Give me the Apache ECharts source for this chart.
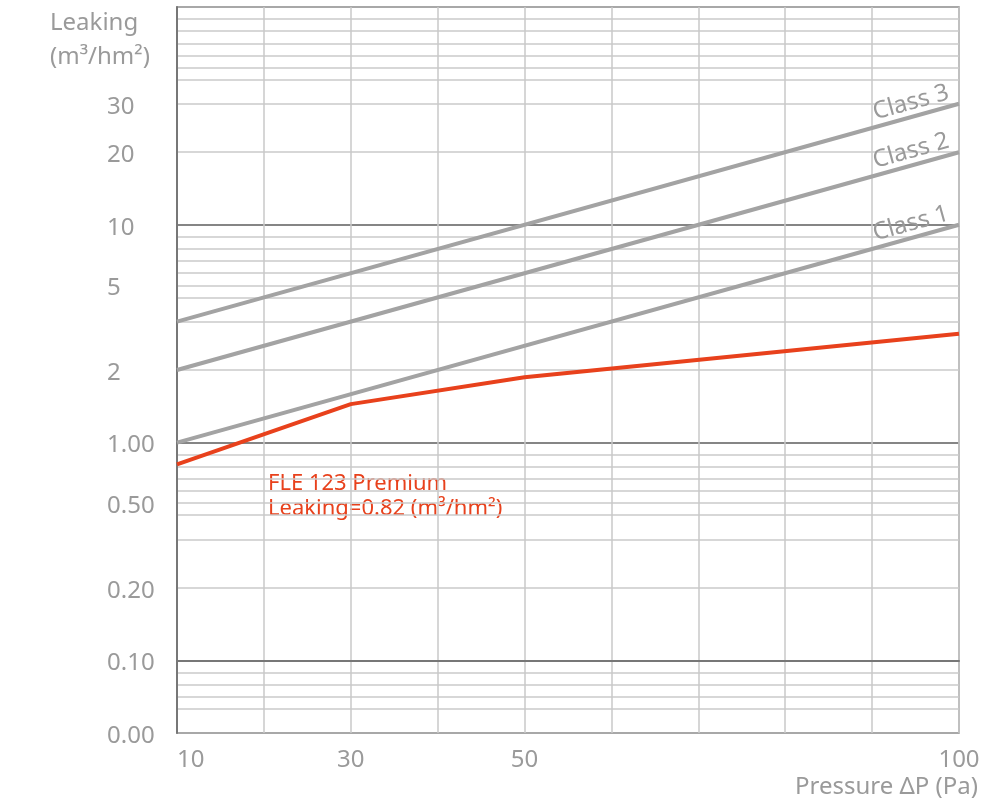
<!DOCTYPE html>
<html>
<head>
<meta charset="utf-8">
<script src="https://cdn.jsdelivr.net/npm/echarts@6/dist/echarts.min.js"></script>
<style>
  html, body { margin: 0; padding: 0; background: #fff; }
  #chart { width: 1000px; height: 807px; }
</style>
</head>
<body>
<div id="chart"></div>
<script>
  // pressure dP (Pa)
  var classPressure = [10, 100];
  var premiumPressure = [10, 30, 50, 100];
  var xLabels = [10, 30, 50, 100];

  // leaking (m3/hm2)
  var class1 = [1, 10];
  var class2 = [2, 20];
  var class3 = [3, 30];
  var premium = [0.82, 1.53, 1.9, 2.75];

  var yLabels = [0, 0.1, 0.2, 0.5, 1, 2, 5, 10, 20, 30];
  var yLabelText = ['0.00', '0.10', '0.20', '0.50', '1.00', '2', '5', '10', '20', '30'];
  var majorLines = [0.1, 1, 10];
  var minorLines = [0.06, 0.07, 0.08, 0.09,
    0.2, 0.3, 0.4, 0.5, 0.6, 0.7, 0.8, 0.9,
    2, 3, 4, 5, 6, 7, 8, 9,
    20, 30, 40, 50, 60, 70, 80, 90];

  // the paper of the original chart: every decade is split in 18 steps,
  // 1-2 takes 6, 2-3 takes 4, 3-4 takes 2, then one step each
  var decadeMantissa = [1, 2, 3, 4, 5, 6, 7, 8, 9, 10];
  var decadeSteps = [0, 6, 10, 12, 13, 14, 15, 16, 17, 18];

  function toPaper(v) {
    if (v <= 0) return -6; // the "0.00" bottom line
    var d = Math.floor(Math.log10(v) + 1e-9);
    var m = v / Math.pow(10, d);
    var i = 0;
    while (i < 8 && m > decadeMantissa[i + 1] + 1e-9) i++;
    var t = (m - decadeMantissa[i]) / (decadeMantissa[i + 1] - decadeMantissa[i]);
    return (d + 1) * 18 + decadeSteps[i] + t * (decadeSteps[i + 1] - decadeSteps[i]);
  }

  function pairs(xs, ys) {
    return xs.map(function (x, i) { return [x, toPaper(ys[i])]; });
  }

  var font = 'Noto Sans';
  var gray = '#a3a3a3';
  var red = '#e8411c';
  var textGray = '#9a9a9a';

  var labelPaper = yLabels.map(toPaper);

  function classSeries(name, ys) {
    return {
      name: name,
      type: 'line',
      data: pairs(classPressure, ys),
      symbol: 'none',
      lineStyle: {color: gray, width: 4},
      z: 3,
      markPoint: {
        symbol: 'circle',
        symbolSize: 0,
        silent: true,
        data: [{coord: [classPressure[1], toPaper(ys[1])]}],
        label: {
          show: true,
          position: 'inside',
          formatter: name,
          rotate: 15.5,
          offset: [-46, -14],
          color: textGray,
          fontFamily: font,
          fontSize: 24
        }
      }
    };
  }

  var chart = echarts.init(document.getElementById('chart'));
  var option = {
    animation: false,
    grid: {
      left: 177, right: 41, top: 7, bottom: 74,
      show: true,
      borderColor: '#8c8c8c',
      borderWidth: 1.5
    },
    xAxis: {
      type: 'value',
      min: 10,
      max: 100,
      interval: 10,
      axisLine: {show: true, lineStyle: {color: '#777', width: 2}},
      axisTick: {show: false},
      axisLabel: {
        formatter: function (v) { return xLabels.indexOf(v) >= 0 ? String(v) : ''; },
        alignMinLabel: 'left',
        showMinLabel: true,
        showMaxLabel: true,
        margin: 15,
        color: textGray,
        fontFamily: font,
        fontSize: 24
      },
      splitLine: {show: true, lineStyle: {color: '#c8c8c8', width: 1.5}}
    },
    yAxis: [
      {
        type: 'value',
        min: -6,
        max: 54,
        axisLine: {show: true, lineStyle: {color: '#777', width: 2}},
        axisTick: {show: false, customValues: minorLines.map(toPaper)},
        axisLabel: {
          customValues: labelPaper,
          formatter: function (v) {
            for (var i = 0; i < labelPaper.length; i++) {
              if (Math.abs(labelPaper[i] - v) < 1e-6) return '{t|' + yLabelText[i] + '}';
            }
            return '';
          },
          align: 'left',
          margin: 70,
          rich: {
            t: {color: textGray, fontFamily: font, fontSize: 24, padding: [6, 0, 0, 0]}
          }
        },
        splitLine: {show: true, lineStyle: {color: '#cacaca', width: 1.5}}
      },
      {
        type: 'value',
        min: -6,
        max: 54,
        axisLine: {show: false},
        axisTick: {show: false, customValues: majorLines.map(toPaper)},
        axisLabel: {show: false},
        splitLine: {show: true, lineStyle: {color: '#858585', width: 2}}
      }
    ],
    graphic: [
      {
        type: 'text', left: 50, top: 6,
        style: {text: 'Leaking\n(m³/hm²)', fill: textGray, font: '24px "Noto Sans"', lineHeight: 34}
      },
      {
        type: 'text', right: 22, top: 775,
        style: {text: 'Pressure ΔP (Pa)', fill: textGray, font: '24px "Noto Sans"'}
      },
      {
        type: 'text', left: 268, top: 471,
        style: {text: 'FLE 123 Premium\nLeaking=0.82 (m³/hm²)', fill: red, font: '22px "Noto Sans"', lineHeight: 25}
      }
    ],
    series: [
      classSeries('Class 1', class1),
      classSeries('Class 2', class2),
      classSeries('Class 3', class3),
      {
        name: 'FLE 123 Premium',
        type: 'line',
        data: pairs(premiumPressure, premium),
        symbol: 'none',
        lineStyle: {color: red, width: 4},
        z: 4
      }
    ]
  };
  option && chart.setOption(option);
</script>
</body>
</html>
